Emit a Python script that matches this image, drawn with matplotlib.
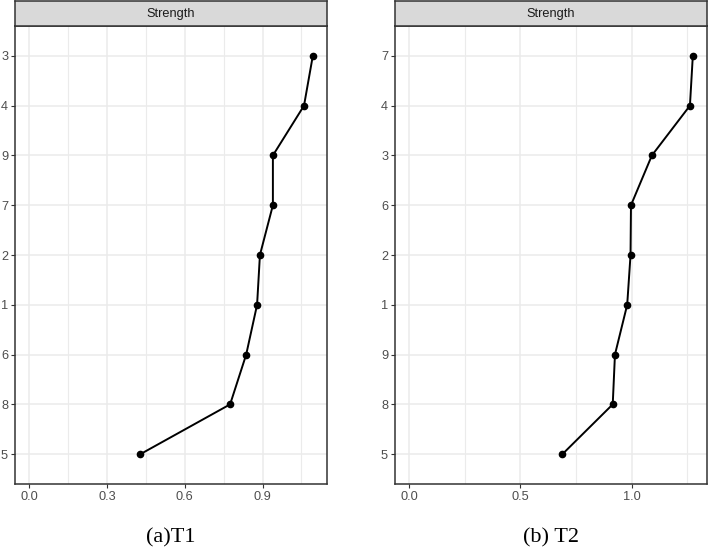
import matplotlib.pyplot as plt
import numpy as np

# Datos (de arriba hacia abajo)
t1_labels = ["3", "4", "9", "7", "2", "1", "6", "8", "5"]
t1_values = [1.094, 1.060, 0.940, 0.940, 0.890, 0.879, 0.837, 0.775, 0.429]
t1_ticks = [0.0, 0.3, 0.6, 0.9]

t2_labels = ["7", "4", "3", "6", "2", "1", "9", "8", "5"]
t2_values = [1.275, 1.262, 1.091, 0.997, 0.995, 0.980, 0.925, 0.915, 0.689]
t2_ticks = [0.0, 0.5, 1.0]

captions = ["(a)T1", "(b) T2"]

plt.rcParams['font.family'] = ['Liberation Sans', 'DejaVu Sans']

W, H = 708, 549
fig = plt.figure(figsize=(W / 100, H / 100), dpi=100)

grid_col = "#EBEBEB"
border_col = "#333333"
text_col = "#4D4D4D"


def panel(x0, x1, labels, values, ticks, minor, caption):
    top, bottom, strip_top = 26, 484, 1
    ax = fig.add_axes([x0 / W, 1 - bottom / H, (x1 - x0) / W, (bottom - top) / H])
    n = len(labels)
    y = np.arange(n)
    ax.plot(values, y, color="black", lw=1.4, marker="o", ms=4.5, zorder=3)
    ax.set_ylim(n - 1 + 0.6, -0.6)
    ax.set_yticks(y)
    ax.set_yticklabels(labels)
    rng = max(values)
    ax.set_xlim(-0.05 * rng, 1.05 * rng)
    ax.set_xticks(ticks)
    ax.set_xticklabels([f"{t:.1f}" for t in ticks])
    ax.set_xticks(minor, minor=True)
    ax.grid(True, which="major", color=grid_col, lw=1.1, zorder=0)
    ax.grid(True, which="minor", axis="x", color=grid_col, lw=0.8, zorder=0)
    ax.set_axisbelow(True)
    for s in ax.spines.values():
        s.set_color(border_col)
        s.set_linewidth(1.1)
    ax.tick_params(which="major", length=3, width=0.8, color=border_col,
                   labelcolor=text_col, labelsize=9.2, pad=2)
    ax.tick_params(which="minor", length=0)

    # barra del titulo del panel
    sax = fig.add_axes([x0 / W, 1 - top / H, (x1 - x0) / W, (top - strip_top) / H])
    sax.set_facecolor("#D9D9D9")
    sax.set_xticks([])
    sax.set_yticks([])
    for s in sax.spines.values():
        s.set_color(border_col)
        s.set_linewidth(1.1)
    sax.text(0.5, 0.5, "Strength", ha="center", va="center", fontsize=9.2,
             color="#1A1A1A", transform=sax.transAxes)

    fig.text((x0 + x1) / 2 / W, 1 - 538 / H, caption, ha="center", va="center",
             fontsize=16, family="Liberation Serif")


panel(15, 327, t1_labels, t1_values, t1_ticks, [0.15, 0.45, 0.75, 1.05], captions[0])
panel(395, 707, t2_labels, t2_values, t2_ticks, [0.25, 0.75, 1.25], captions[1])

fig.savefig("out.png", dpi=100)
